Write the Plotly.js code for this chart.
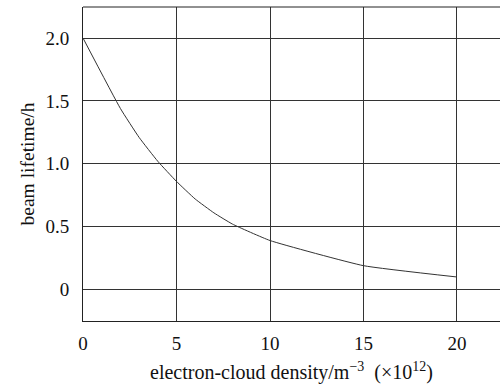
<!DOCTYPE html>
<html>
<head>
<meta charset="utf-8">
<script src="https://cdn.plot.ly/plotly-3.0.1.min.js"></script>
<style>html,body{margin:0;padding:0;background:#fff;}#chart{width:500px;height:390px;}</style>
</head>
<body>
<div id="chart"></div>
<script>
const density = [0, 2, 3, 4, 5, 6, 7, 8, 10, 15, 20];
const lifetime = [2.0, 1.44, 1.21, 1.02, 0.86, 0.72, 0.61, 0.52, 0.39, 0.19, 0.10];
const xTicks = [0, 5, 10, 15, 20];
const yTicks = [0, 0.5, 1.0, 1.5, 2.0];
const yTickText = ['0', '0.5', '1.0', '1.5', '2.0'];

const FAM = 'Liberation Serif';
const f = (s) => ({family: FAM, size: s, color: '#111'});

Plotly.newPlot('chart', [{
  x: density, y: lifetime, type: 'scatter', mode: 'lines',
  line: {color: '#333', width: 1, shape: 'spline', smoothing: 0.4},
  hoverinfo: 'skip'
}], {
  width: 500, height: 390,
  margin: {l: 83, r: 0, t: 7, b: 69},
  paper_bgcolor: '#fff', plot_bgcolor: '#fff',
  showlegend: false,
  font: f(19),
  xaxis: {
    range: [0, 22.3], tickvals: xTicks, ticktext: xTicks.map(String),
    showgrid: true, gridcolor: '#333', gridwidth: 1,
    zeroline: false, showline: true, linecolor: '#222', linewidth: 1,
    mirror: false, ticks: '', ticklabelstandoff: 5,
    tickfont: f(19),
    title: {text: 'electron-cloud density/m<sup>−3</sup>  (×10<sup>12</sup>)', font: f(20), standoff: 12}
  },
  yaxis: {
    range: [-0.25, 2.247], tickvals: yTicks, ticktext: yTickText,
    showgrid: true, gridcolor: '#333', gridwidth: 1,
    zeroline: false, showline: true, linecolor: '#222', linewidth: 1,
    ticks: '', ticklabelstandoff: 9,
    tickfont: f(19),
    title: {text: 'beam lifetime/h', font: f(19.5), standoff: 5}
  },
  shapes: [{type: 'line', xref: 'paper', yref: 'paper', x0: 0, x1: 1, y0: 1, y1: 1, line: {color: '#222', width: 1}}]
}, {staticPlot: true});
</script>
</body>
</html>
